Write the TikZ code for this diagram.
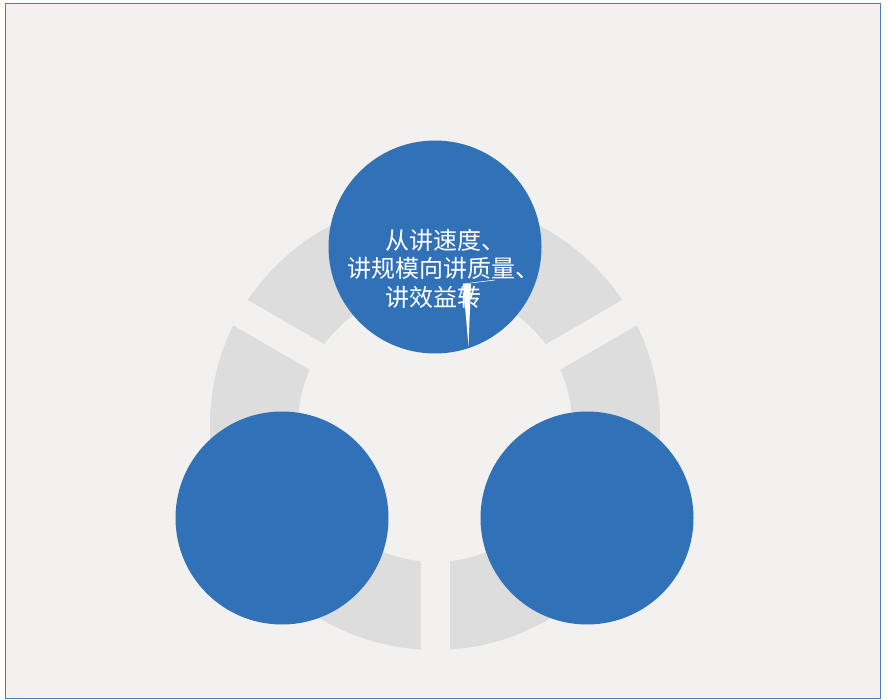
\documentclass[tikz,border=0pt]{standalone}
\usepackage{fontspec}
\newfontfamily\cjk{Noto Sans CJK SC}
\definecolor{bgc}{HTML}{F2F1F0}
\definecolor{ringc}{HTML}{DCDDDC}
\definecolor{bluec}{HTML}{3171B8}
\definecolor{framec}{HTML}{4A7EBB}
\begin{document}
\begin{tikzpicture}[x=1pt,y=-1pt,
  bubble/.style={circle,fill=bluec,minimum size=213pt,inner sep=0pt},
  txt/.style={text=white,font=\cjk\fontsize{24}{28}\selectfont,inner sep=0pt}]
\useasboundingbox (0,0) rectangle (888,700);
\fill[white] (0,0) rectangle (888,700);
\filldraw[fill=bgc,draw=framec,line width=1pt] (5,4) rectangle (880,698);
% ring
\fill[ringc,even odd rule] (435,425) circle[radius=225] (435,425) circle[radius=137];
% gaps
\fill[bgc] (420.5,425) -- (449.5,425) -- (449.5,665) -- (420.5,665) -- cycle;
\fill[bgc] (442.25,412.44) -- (427.75,437.56) -- (219.9,317.56) -- (234.4,292.44) -- cycle;
\fill[bgc] (442.25,437.56) -- (427.75,412.44) -- (635.6,292.44) -- (650.1,317.56) -- cycle;
% bubbles
\node[bubble] (top) at (435,247) {};
\node[bubble] (left) at (282,518) {};
\node[bubble] (right) at (587,518) {};
% text
\node[txt,anchor=west] (l1) at (385,240) {从讲速度、};
\node[txt,anchor=west] (l2) at (347,268) {讲规模向讲质量、};
\node[txt,anchor=west] (l3) at (385,297) {讲效益转};
% white spike artefact
\fill[white] (463,284) -- (471,284) -- (468.5,346) -- cycle;
\draw[white,line width=0.6pt] (463,284) -- (495,280);
\end{tikzpicture}
\end{document}
